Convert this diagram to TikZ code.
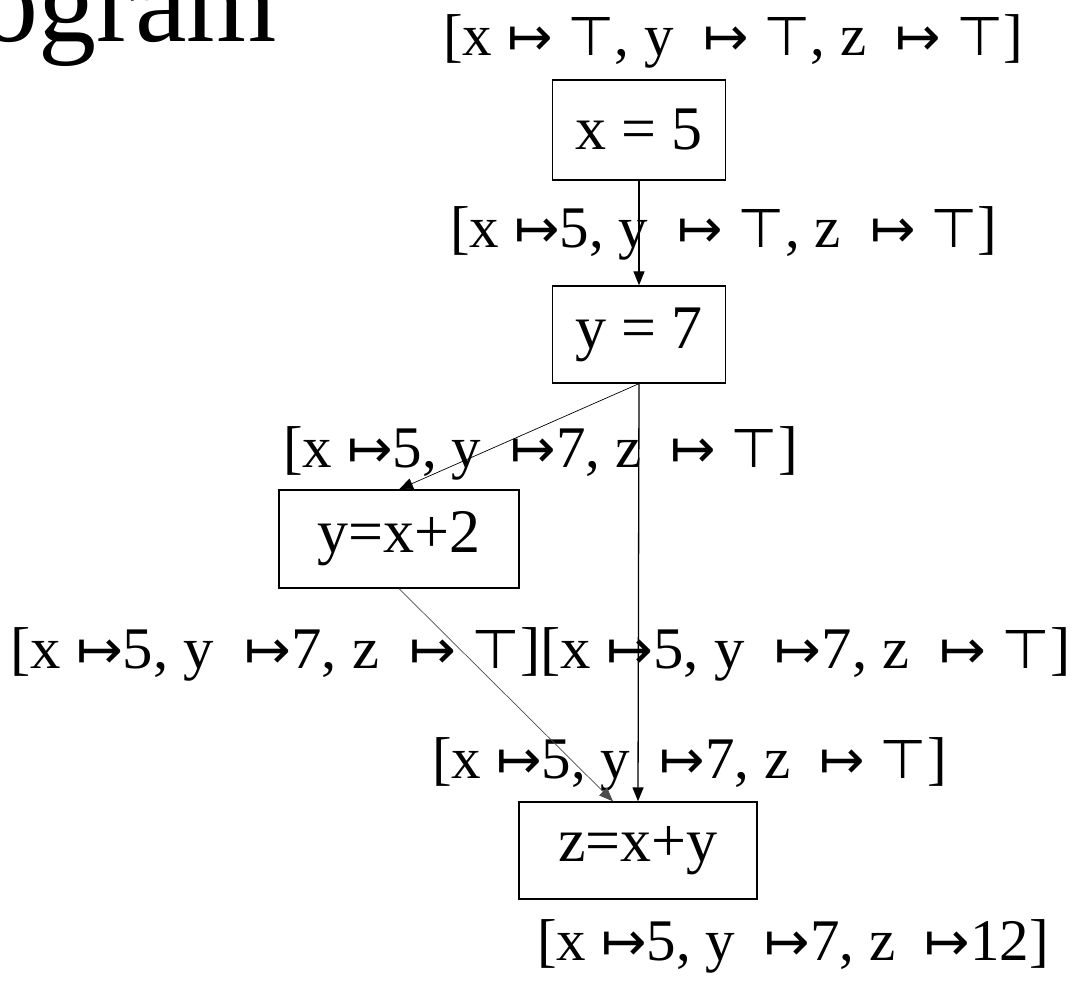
\documentclass[tikz,border=0pt]{standalone}
\usepackage{fontspec}
\setmainfont{Liberation Serif}
\newfontfamily\symfont{DejaVu Sans}[Scale=0.92]
\usetikzlibrary{arrows.meta,calc}
\newcommand\MapTo{{\symfont ↦}}
\newcommand\TopV{{\symfont ⊤}}
\begin{document}
\begin{tikzpicture}[x=1pt,y=-1pt,
 box/.style={draw,line width=1.3pt,inner sep=0pt,font=\fontsize{62}{70}\selectfont},
 lbl/.style={anchor=base west,inner sep=0pt,font=\fontsize{59}{64}\selectfont},
 tip/.style={-{Triangle[length=14pt,width=11pt]}},
 thick edge/.style={tip,line width=1.3pt},
 thin edge/.style={tip,line width=0.7pt},
]
\useasboundingbox (0,0) rectangle (1082,995);
\clip (0,0) rectangle (1082,995);
\node[anchor=base east,inner sep=0pt,font=\fontsize{116}{120}\selectfont] (title) at (277,42) {Program};

\node[box,minimum width=173pt,minimum height=100pt] (b1) at (639,130) {x = 5};
\node[box,minimum width=173pt,minimum height=97pt] (b2) at (639,334.5) {y = 7};
\node[box,minimum width=240pt,minimum height=98pt] (b3) at (399,539) {y=x+2};
\node[box,minimum width=238pt,minimum height=97pt] (b4) at (638,850.5) {z=x+y};

\node[lbl] (l0) at (443,56) {[x \MapTo{} \TopV, y\ \ \MapTo{} \TopV, z\ \ \MapTo{} \TopV]};
\node[lbl] (l1) at (450,248) {[x \MapTo5, y\ \ \MapTo{} \TopV, z\ \ \MapTo{} \TopV]};
\node[lbl] (l2) at (283,467) {[x \MapTo5, y\ \ \MapTo7, z\ \ \MapTo{} \TopV]};
\node[lbl] (l3a) at (10,668) {\scalebox{1.03}[1]{[x \MapTo5, y\ \ \MapTo7, z\ \ \MapTo{} \TopV]}};
\node[lbl] (l3b) at (l3a.base east) {\scalebox{1.03}[1]{[x \MapTo5, y\ \ \MapTo7, z\ \ \MapTo{} \TopV]}};
\node[lbl] (l4) at (432,778) {[x \MapTo5, y\ \ \MapTo7, z\ \ \MapTo{} \TopV]};
\node[lbl] (l5) at (537,960) {[x \MapTo5, y\ \ \MapTo7, z\ \ \MapTo12]};

\coordinate (in4) at ($(b4.north)+(-25,0)$);
\draw[thick edge] (b1.south) -- (b2.north);
\draw[thin edge] (b2.south) -- (b3.north);
\draw[thick edge] (b2.south) -- (b4.north);
\draw[thin edge,draw=black!70] (b3.south) -- (in4);
\end{tikzpicture}
\end{document}
